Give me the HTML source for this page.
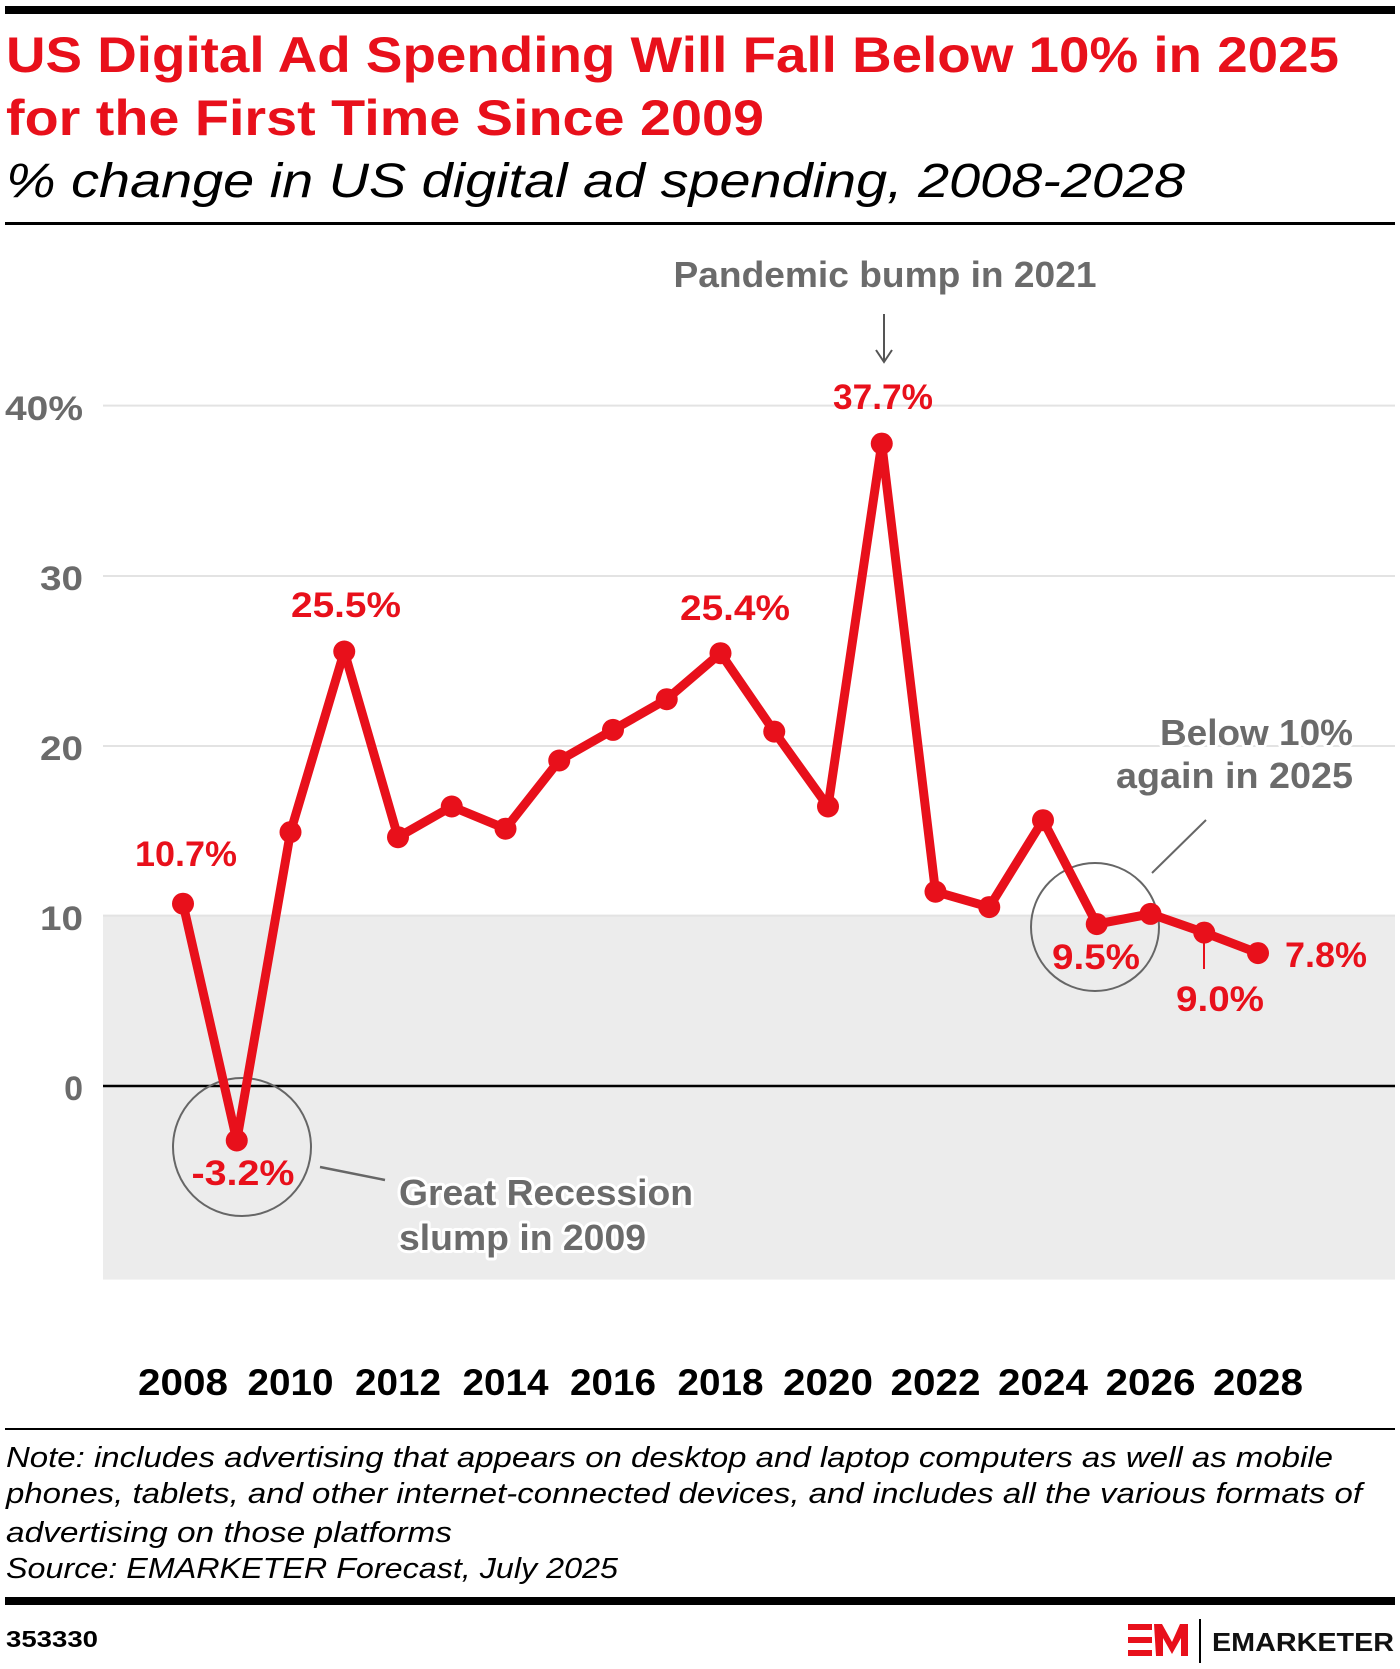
<!DOCTYPE html>
<html><head><meta charset="utf-8"><style>
html,body{margin:0;padding:0;background:#fff;}
svg{display:block;}
text{font-family:"Liberation Sans",Arial,sans-serif;}
.halo{paint-order:stroke;stroke:#fff;stroke-width:6px;stroke-linejoin:round;}
</style></head><body>
<svg width="1400" height="1669" viewBox="0 0 1400 1669" xmlns="http://www.w3.org/2000/svg">
<rect x="5" y="6" width="1390" height="8" fill="#000"/>
<text x="6" y="72" font-size="50" font-weight="bold" fill="#e8101b" textLength="1333" lengthAdjust="spacingAndGlyphs">US Digital Ad Spending Will Fall Below 10% in 2025</text>
<text x="6" y="135" font-size="50" font-weight="bold" fill="#e8101b" textLength="758" lengthAdjust="spacingAndGlyphs">for the First Time Since 2009</text>
<text x="6" y="197" font-size="48" font-style="italic" fill="#000" textLength="1179" lengthAdjust="spacingAndGlyphs">% change in US digital ad spending, 2008-2028</text>
<rect x="5" y="222" width="1390" height="3" fill="#000"/>

<rect x="103" y="915.6" width="1292" height="364" fill="#ececec"/>
<g stroke="#e3e3e3" stroke-width="2">
<line x1="103" y1="405.6" x2="1395" y2="405.6"/>
<line x1="103" y1="576" x2="1395" y2="576"/>
<line x1="103" y1="746" x2="1395" y2="746"/>
<line x1="103" y1="915.6" x2="1395" y2="915.6"/>
</g>
<line x1="103" y1="1086" x2="1395" y2="1086" stroke="#000" stroke-width="2.5"/>

<g font-size="34" font-weight="bold" fill="#6b6b6b" text-anchor="end">
<text x="83" y="420" textLength="78" lengthAdjust="spacingAndGlyphs">40%</text>
<text x="83" y="590" textLength="43" lengthAdjust="spacingAndGlyphs">30</text>
<text x="83" y="760" textLength="43" lengthAdjust="spacingAndGlyphs">20</text>
<text x="83" y="930" textLength="43" lengthAdjust="spacingAndGlyphs">10</text>
<text x="83" y="1100">0</text>
</g>

<g font-size="37" font-weight="bold" fill="#000" text-anchor="middle">
<text x="183" y="1395" textLength="90" lengthAdjust="spacingAndGlyphs">2008</text><text x="290.5" y="1395" textLength="86" lengthAdjust="spacingAndGlyphs">2010</text><text x="398" y="1395" textLength="86" lengthAdjust="spacingAndGlyphs">2012</text>
<text x="505.5" y="1395" textLength="86" lengthAdjust="spacingAndGlyphs">2014</text><text x="613" y="1395" textLength="86" lengthAdjust="spacingAndGlyphs">2016</text><text x="720.5" y="1395" textLength="86" lengthAdjust="spacingAndGlyphs">2018</text>
<text x="828" y="1395" textLength="90" lengthAdjust="spacingAndGlyphs">2020</text><text x="935.5" y="1395" textLength="90" lengthAdjust="spacingAndGlyphs">2022</text><text x="1043" y="1395" textLength="90" lengthAdjust="spacingAndGlyphs">2024</text>
<text x="1150.5" y="1395" textLength="90" lengthAdjust="spacingAndGlyphs">2026</text><text x="1258" y="1395" textLength="90" lengthAdjust="spacingAndGlyphs">2028</text>
</g>

<circle cx="242" cy="1147" r="69" fill="none" stroke="#666" stroke-width="2"/>
<circle cx="1095" cy="927" r="64" fill="none" stroke="#666" stroke-width="2"/>
<line x1="320" y1="1167" x2="385" y2="1180" stroke="#666" stroke-width="2.5"/>
<line x1="1206" y1="820" x2="1152" y2="873" stroke="#666" stroke-width="2"/>
<line x1="1204" y1="942" x2="1204" y2="969" stroke="#e8101b" stroke-width="2"/>
<line x1="884" y1="314" x2="884" y2="360" stroke="#555" stroke-width="2"/>
<polyline points="876,350 884,362 892,350" fill="none" stroke="#555" stroke-width="2"/>

<polyline fill="none" stroke="#e8101b" stroke-width="9" stroke-linejoin="round" points="183,903.7 236.75,1140.5 290.5,832.1 344.25,651.5 398,837.2 451.75,806.5 505.5,828.7 559.25,760.5 613,729.9 666.75,699.2 720.5,653.2 774.25,731.6 828,806.5 881.75,443.6 935.5,891.7 989.25,907.1 1043,820.2 1096.75,924.1 1150.5,913.9 1204.25,932.6 1258,953.1"/>
<g fill="#e8101b">
<circle cx="183" cy="903.7" r="11"/><circle cx="236.75" cy="1140.5" r="11"/><circle cx="290.5" cy="832.1" r="11"/>
<circle cx="344.25" cy="651.5" r="11"/><circle cx="398" cy="837.2" r="11"/><circle cx="451.75" cy="806.5" r="11"/>
<circle cx="505.5" cy="828.7" r="11"/><circle cx="559.25" cy="760.5" r="11"/><circle cx="613" cy="729.9" r="11"/>
<circle cx="666.75" cy="699.2" r="11"/><circle cx="720.5" cy="653.2" r="11"/><circle cx="774.25" cy="731.6" r="11"/>
<circle cx="828" cy="806.5" r="11"/><circle cx="881.75" cy="443.6" r="11"/><circle cx="935.5" cy="891.7" r="11"/>
<circle cx="989.25" cy="907.1" r="11"/><circle cx="1043" cy="820.2" r="11"/><circle cx="1096.75" cy="924.1" r="11"/>
<circle cx="1150.5" cy="913.9" r="11"/><circle cx="1204.25" cy="932.6" r="11"/><circle cx="1258" cy="953.1" r="11"/>
</g>

<g font-size="35" font-weight="bold" fill="#e8101b" text-anchor="middle">
<text x="883" y="409" textLength="100" lengthAdjust="spacingAndGlyphs">37.7%</text>
<text x="346" y="617" textLength="110" lengthAdjust="spacingAndGlyphs">25.5%</text>
<text x="735" y="620" textLength="110" lengthAdjust="spacingAndGlyphs">25.4%</text>
<text x="186" y="866" textLength="102" lengthAdjust="spacingAndGlyphs">10.7%</text>
<text x="243" y="1185" textLength="103" lengthAdjust="spacingAndGlyphs">-3.2%</text>
<text x="1096" y="969" textLength="88" lengthAdjust="spacingAndGlyphs">9.5%</text>
<text x="1220" y="1011" textLength="88" lengthAdjust="spacingAndGlyphs">9.0%</text>
<text x="1285" y="967" text-anchor="start" textLength="82" lengthAdjust="spacingAndGlyphs">7.8%</text>
</g>

<g font-size="36" font-weight="bold" fill="#6b6b6b">
<text x="885" y="287" text-anchor="middle" textLength="423" lengthAdjust="spacingAndGlyphs">Pandemic bump in 2021</text>
<text class="halo" x="399" y="1205" textLength="294" lengthAdjust="spacingAndGlyphs">Great Recession</text>
<text class="halo" x="399" y="1250" textLength="247" lengthAdjust="spacingAndGlyphs">slump in 2009</text>
<text class="halo" x="1353" y="745" text-anchor="end" textLength="193" lengthAdjust="spacingAndGlyphs">Below 10%</text>
<text class="halo" x="1353" y="788" text-anchor="end" textLength="237" lengthAdjust="spacingAndGlyphs">again in 2025</text>
</g>

<rect x="5" y="1428" width="1390" height="2" fill="#000"/>
<g font-size="29" font-style="italic" fill="#000">
<text x="6" y="1467" textLength="1327" lengthAdjust="spacingAndGlyphs">Note: includes advertising that appears on desktop and laptop computers as well as mobile</text>
<text x="6" y="1503" textLength="1356" lengthAdjust="spacingAndGlyphs">phones, tablets, and other internet-connected devices, and includes all the various formats of</text>
<text x="6" y="1542" textLength="446" lengthAdjust="spacingAndGlyphs">advertising on those platforms</text>
<text x="6" y="1578" textLength="612" lengthAdjust="spacingAndGlyphs">Source: EMARKETER Forecast, July 2025</text>
</g>
<rect x="5" y="1597" width="1390" height="8" fill="#000"/>
<text x="6" y="1647" font-size="23" font-weight="bold" fill="#000" textLength="92" lengthAdjust="spacingAndGlyphs">353330</text>
<g fill="#e8101b">
<rect x="1128" y="1624" width="24" height="6"/>
<rect x="1128" y="1637" width="24" height="6"/>
<rect x="1128" y="1650" width="24" height="6"/>
<polygon points="1154,1624 1162,1624 1172,1642 1180,1624 1188,1624 1188,1656 1181,1656 1181,1638 1172,1654 1163,1638 1163,1656 1156,1656"/>
</g>
<rect x="1199" y="1619" width="2" height="44" fill="#000"/>
<text x="1212" y="1651" font-size="26" font-weight="bold" fill="#111" textLength="182" lengthAdjust="spacingAndGlyphs">EMARKETER</text>
</svg>
</body></html>
